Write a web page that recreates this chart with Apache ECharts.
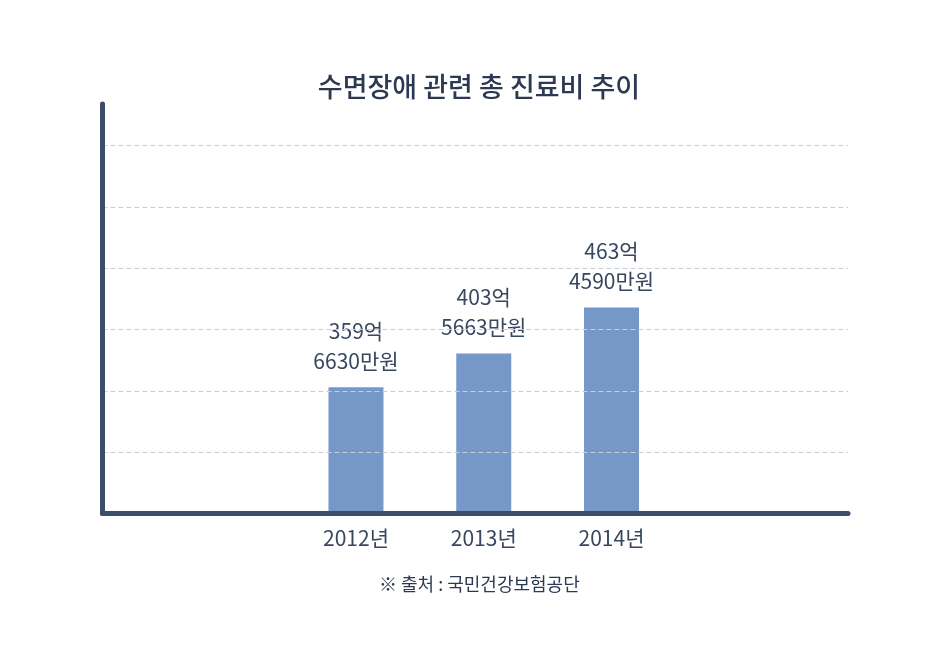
<!DOCTYPE html>
<html>
<head>
<meta charset="utf-8">
<script src="https://cdn.jsdelivr.net/npm/echarts@6/dist/echarts.min.js"></script>
<style>
html,body{margin:0;padding:0;background:#fff;}
#c{width:932px;height:668px;}
</style>
</head>
<body>
<div id="c"></div>
<script>
const titleText = '수면장애 관련 총 진료비 추이';
const sourceText = '※ 출처 : 국민건강보험공단';
const categories = ['2012년', '2013년', '2014년'];
const eokPart = [359, 403, 463];     // 억
const manPart = [6630, 5663, 4590];  // 만원
const costEok = [359.663, 403.5663, 463.459]; // 총 진료비 (억원)

const FONT = '"Noto Sans CJK KR", "Noto Sans", sans-serif';
const TEXT = '#37475f';
const AXIS = '#3b4d68';

const chart = echarts.init(document.getElementById('c'));
chart.setOption({
  backgroundColor: '#ffffff',
  animation: false,
  textStyle: { fontFamily: FONT },
  title: {
    text: titleText,
    left: 474, top: 68, textAlign: 'center',
    textStyle: { fontFamily: FONT, fontSize: 27, fontWeight: 500, color: '#2b3a52' }
  },
  graphic: [{
    type: 'text', left: 379, top: 575,
    style: { text: sourceText, font: '400 18px ' + FONT, fill: '#2b3a52' }
  }],
  grid: [
    { left: 102.5, right: 84, top: 104, bottom: 154.5 },
    { left: 292.1, right: 256.6, top: 104, bottom: 154.5 }
  ],
  xAxis: [
    { gridIndex: 0, type: 'value', min: 0, max: 1, z: 5,
      axisLine: { show: true, lineStyle: { color: AXIS, width: 5 } },
      axisTick: { show: false }, axisLabel: { show: false }, splitLine: { show: false } },
    { gridIndex: 1, type: 'category', data: categories,
      axisLine: { show: false }, axisTick: { show: false },
      axisLabel: { margin: 14, fontSize: 21, color: TEXT, fontFamily: FONT } }
  ],
  yAxis: [
    { gridIndex: 0, type: 'value', min: 0, max: 6.677, interval: 1, z: 5,
      axisLine: { show: true, lineStyle: { color: AXIS, width: 5 } },
      axisTick: { show: false }, axisLabel: { show: false },
      splitLine: { show: true, showMinLine: false, showMaxLine: false,
        lineStyle: { color: '#c9ced6', width: 1, type: [5, 3] } } },
    { gridIndex: 1, type: 'value', min: 195, max: 728.6,
      axisLine: { show: false }, axisTick: { show: false }, axisLabel: { show: false },
      splitLine: { show: false } }
  ],
  series: [{
    type: 'bar', xAxisIndex: 1, yAxisIndex: 1,
    data: costEok, barWidth: 55,
    itemStyle: { color: '#7598c8' },
    label: {
      show: true, position: 'top', distance: 11,
      formatter: p => eokPart[p.dataIndex] + '억\n' + manPart[p.dataIndex] + '만원',
      fontSize: 21, lineHeight: 30, color: TEXT, fontFamily: FONT
    }
  }]
});
</script>
</body>
</html>
